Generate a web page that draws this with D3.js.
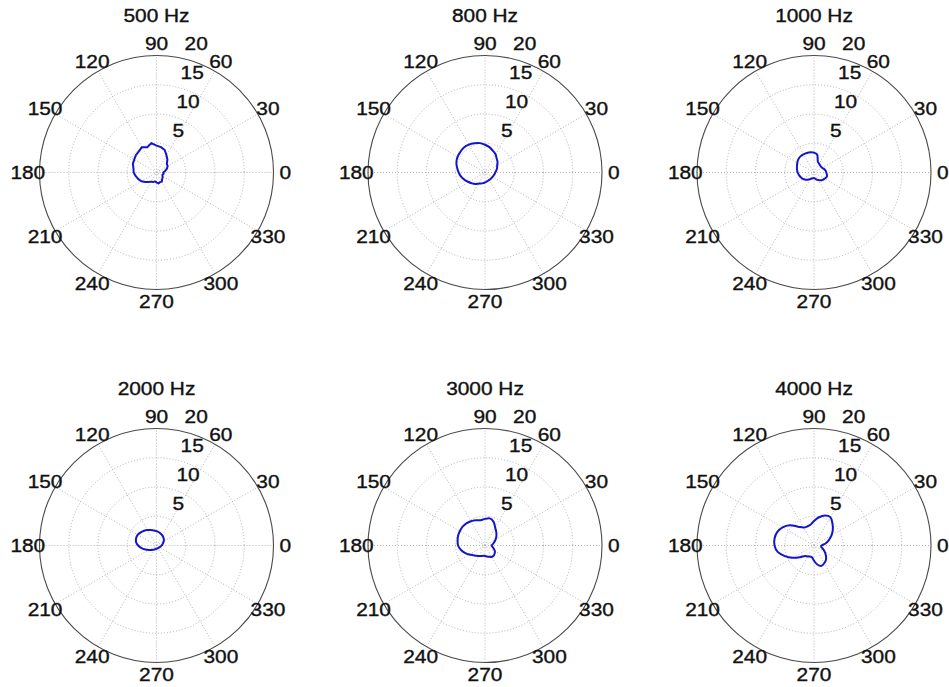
<!DOCTYPE html>
<html>
<head>
<meta charset="utf-8">
<script src="https://cdn.jsdelivr.net/npm/d3@7"></script>
<style>
  html, body { margin: 0; padding: 0; background: #fff; }
  svg { display: block; }
  text { font-family: "Liberation Sans", Arial, Helvetica, sans-serif; fill: #111; stroke: #111; stroke-width: 0.35px; }
</style>
</head>
<body>
<svg id="chart" width="949" height="687"></svg>
<script>
// Directivity of the measured source at six frequencies (polar, radius in units 0-20)
const panelTitles = ["500 Hz", "800 Hz", "1000 Hz", "2000 Hz", "3000 Hz", "4000 Hz"];

// measurement angles in degrees
const angles = [0, 10, 20, 30, 40, 50, 60, 70, 80, 90, 100, 110, 120, 130, 140, 150, 160, 170,
                180, 190, 200, 210, 220, 230, 240, 250, 260, 270, 280, 290, 300, 310, 320, 330, 340, 350];

const r500  = [1.15, 1.5, 1.9, 2.2, 2.3, 2.9, 3.4, 4.1, 4.4, 4.6, 5.1, 4.6, 5.0, 4.7, 4.6, 4.4, 4.3, 4.0,
               3.9, 3.6, 3.3, 3.0, 2.5, 2.1, 1.8, 1.75, 1.55, 1.7, 1.9, 1.75, 1.8, 1.5, 1.35, 1.2, 1.1, 1.25];
const r800  = [1.75, 1.95, 2.2, 2.4, 2.8, 3.1, 3.6, 3.95, 4.4, 4.75, 5.1, 5.3, 5.5, 5.6, 5.5, 5.4, 5.2, 4.85,
               4.5, 4.15, 3.7, 3.25, 2.9, 2.55, 2.2, 2.0, 1.85, 1.7, 1.6, 1.5, 1.45, 1.45, 1.45, 1.5, 1.55, 1.65];
const r1000 = [2.1, 2.0, 1.8, 1.6, 1.55, 1.6, 1.75, 1.95, 3.1, 3.4, 3.5, 3.55, 3.6, 3.6, 3.5, 3.3, 3.1, 2.95,
               2.8, 2.6, 2.4, 2.2, 1.9, 1.6, 1.3, 1.1, 1.0, 0.95, 1.05, 1.3, 1.5, 1.75, 1.95, 2.1, 2.3, 2.25];
const r2000 = [0.86, 1.02, 1.2, 1.43, 1.64, 1.82, 1.99, 2.15, 2.3, 2.45, 2.62, 2.82, 3.05, 3.3, 3.5, 3.69, 3.7, 3.55,
               3.14, 2.6, 2.0, 1.53, 1.18, 0.97, 0.79, 0.69, 0.62, 0.57, 0.54, 0.52, 0.52, 0.53, 0.55, 0.59, 0.66, 0.76];
const r3000 = [1.1, 1.35, 1.7, 2.1, 2.55, 3.0, 3.5, 4.3, 4.7, 4.55, 4.4, 4.6, 4.8, 4.95, 5.0, 4.95, 4.9, 4.75,
               4.6, 4.2, 3.65, 3.1, 2.6, 2.3, 2.05, 1.9, 1.8, 1.8, 1.9, 2.05, 2.25, 2.3, 2.15, 1.95, 1.6, 1.3];
const r4000 = [1.3, 2.0, 2.7, 3.45, 4.2, 4.9, 5.6, 5.45, 4.9, 4.2, 3.6, 3.45, 3.55, 4.2, 5.4, 6.2, 6.7, 6.85,
               6.75, 6.3, 5.3, 4.2, 3.1, 2.35, 2.15, 2.0, 2.05, 2.6, 3.3, 3.7, 3.5, 3.2, 2.65, 2.1, 1.6, 1.25];

const seriesList = [r500, r800, r1000, r2000, r3000, r4000];

// axis ticks
const radialTicks = [5, 10, 15, 20];
const angleTicks = [0, 30, 60, 90, 120, 150, 180, 210, 240, 270, 300, 330];
const spokeAngles = [0, 30, 60, 90, 120, 150];

// layout
const colX = [156.5, 485, 814];
const rowY = [172.5, 545.5];
const R = 117;
const rMax = 20;
const fontSize = 18;
const stretch = 1.16;
const toRad = Math.PI / 180;

const svg = d3.select("#chart");
const rScale = d3.scaleLinear().domain([0, rMax]).range([0, R]);

function stretchedText(g, x, y, str, anchor, baseline) {
  return g.append("text")
    .attr("transform", `translate(${x},${y}) scale(${stretch},1)`)
    .attr("text-anchor", anchor)
    .attr("dominant-baseline", baseline)
    .attr("font-size", fontSize)
    .text(str);
}

seriesList.forEach((vals, i) => {
  const cx = colX[i % 3];
  const cy = rowY[Math.floor(i / 3)];
  const g = svg.append("g").attr("transform", `translate(${cx},${cy})`);

  // white plotting disc
  g.append("circle").attr("r", rScale(rMax)).attr("fill", "#fff");

  // dotted range rings
  g.selectAll("circle.ring").data(radialTicks.slice(0, -1)).join("circle")
    .attr("class", "ring")
    .attr("r", d => rScale(d))
    .attr("fill", "none")
    .attr("stroke", "#a0a0a0")
    .attr("stroke-width", 0.8)
    .attr("stroke-dasharray", "1,2");

  // dotted spokes through the centre
  g.selectAll("line.spoke").data(spokeAngles).join("line")
    .attr("class", "spoke")
    .attr("x1", d => -rScale(rMax) * Math.cos(d * toRad))
    .attr("y1", d => rScale(rMax) * Math.sin(d * toRad))
    .attr("x2", d => rScale(rMax) * Math.cos(d * toRad))
    .attr("y2", d => -rScale(rMax) * Math.sin(d * toRad))
    .attr("stroke", "#a0a0a0")
    .attr("stroke-width", 0.8)
    .attr("stroke-dasharray", "1,2");

  // solid outer ring
  g.append("circle")
    .attr("r", rScale(rMax))
    .attr("fill", "none")
    .attr("stroke", "#4a4a4a")
    .attr("stroke-width", 1.1);

  // radial tick labels along 82 degrees
  const c82 = Math.cos(82 * toRad), s82 = Math.sin(82 * toRad);
  const spaceW = 2 * 0.278 * fontSize * stretch;
  radialTicks.forEach(t => {
    const rr = rScale(t + rMax / 4 / 20);
    stretchedText(g, rr * c82 + spaceW, -rr * s82 - 5, String(t), "start", "auto");
  });

  // angle labels just outside the rim
  angleTicks.forEach(a => {
    const rr = rScale(rMax) * 1.1;
    stretchedText(g, rr * Math.cos(a * toRad), -rr * Math.sin(a * toRad), String(a), "middle", "central");
  });

  // data curve
  const pts = angles.map((a, k) => ({ theta: a, r: vals[k] }));
  const line = d3.lineRadial()
    .angle(d => Math.PI / 2 - d.theta * toRad)
    .radius(d => rScale(d.r))
    .curve(i === 0 ? d3.curveLinearClosed : d3.curveCatmullRomClosed.alpha(0.5));
  g.append("path")
    .datum(pts)
    .attr("d", line)
    .attr("fill", "none")
    .attr("stroke", "#1414cc")
    .attr("stroke-width", 2)
    .attr("stroke-linejoin", "round");

  // panel title
  stretchedText(g, 0, -157, panelTitles[i], "middle", "central");
});
</script>
</body>
</html>
